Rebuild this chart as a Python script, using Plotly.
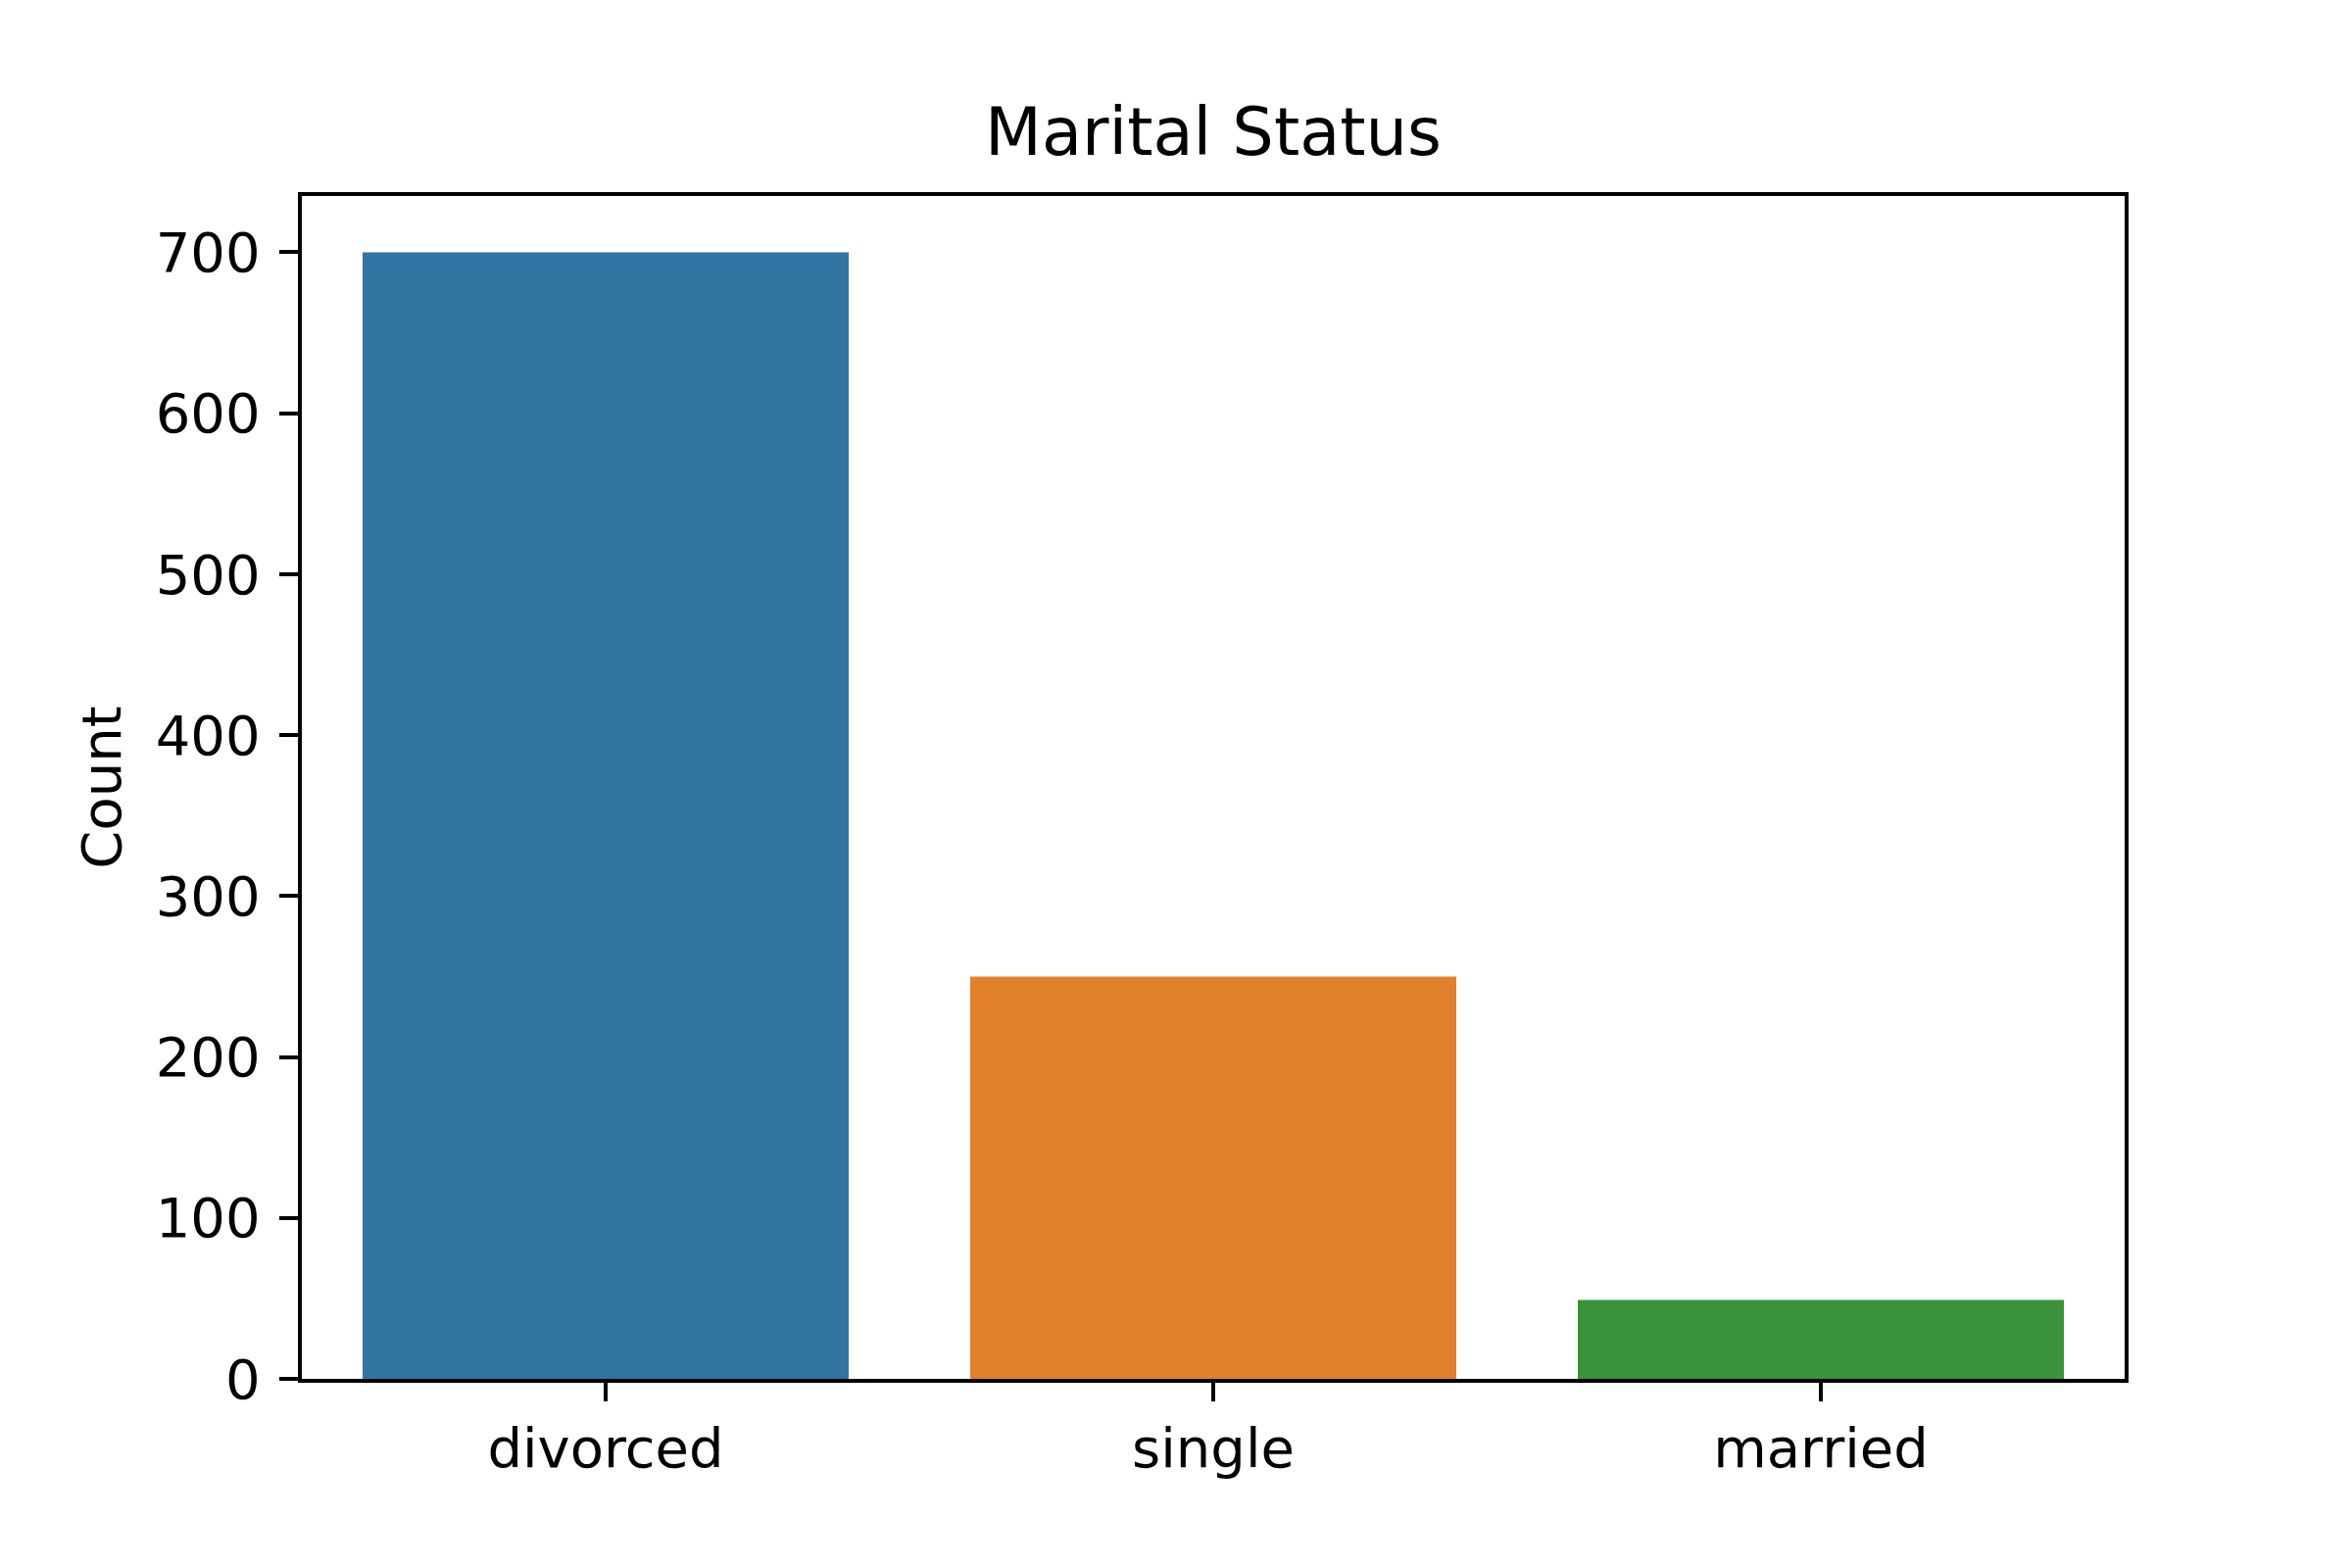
import plotly.graph_objects as go

# Data
categories = ["divorced", "single", "married"]
counts = [700, 250, 49]
bar_colors = ["#3274a1", "#e1812c", "#3a923a"]
y_ticks = [0, 100, 200, 300, 400, 500, 600, 700]

FONT = "DejaVu Sans"
LINE_W = 4.4   # 0.8pt at 400 dpi
TICK_LEN = 19  # 3.5pt at 400 dpi

fig = go.Figure()

fig.add_trace(
    go.Bar(
        x=categories,
        y=counts,
        width=0.8,
        marker=dict(color=bar_colors, line=dict(width=0)),
        showlegend=False,
    )
)

fig.update_layout(
    width=2400,
    height=1600,
    margin=dict(l=300, r=240, t=192, b=201, autoexpand=False),
    paper_bgcolor="white",
    plot_bgcolor="white",
    font=dict(family=FONT, size=56, color="black"),
    title=dict(
        text="Marital Status",
        font=dict(family=FONT, size=67, color="black"),
        x=0.5,
        xref="paper",
        xanchor="center",
        y=1,
        yref="paper",
        yanchor="bottom",
        pad=dict(b=42),
    ),
    xaxis=dict(
        type="category",
        range=[-0.5, 2.5],
        showgrid=False,
        zeroline=False,
        showline=True,
        mirror=True,
        linecolor="black",
        linewidth=LINE_W,
        ticks="outside",
        ticklen=TICK_LEN,
        tickwidth=LINE_W,
        tickcolor="black",
        tickfont=dict(family=FONT, size=56, color="black"),
    ),
    yaxis=dict(
        range=[0, 735],
        tickvals=y_ticks,
        showgrid=False,
        zeroline=False,
        showline=True,
        mirror=True,
        linecolor="black",
        linewidth=LINE_W,
        ticks="outside",
        ticklen=TICK_LEN,
        tickwidth=LINE_W,
        tickcolor="black",
        ticklabelstandoff=8,
        tickfont=dict(family=FONT, size=56, color="black"),
        title=dict(text="Count", font=dict(family=FONT, size=56, color="black"), standoff=18),
    ),
)

fig.write_html("out.html")
